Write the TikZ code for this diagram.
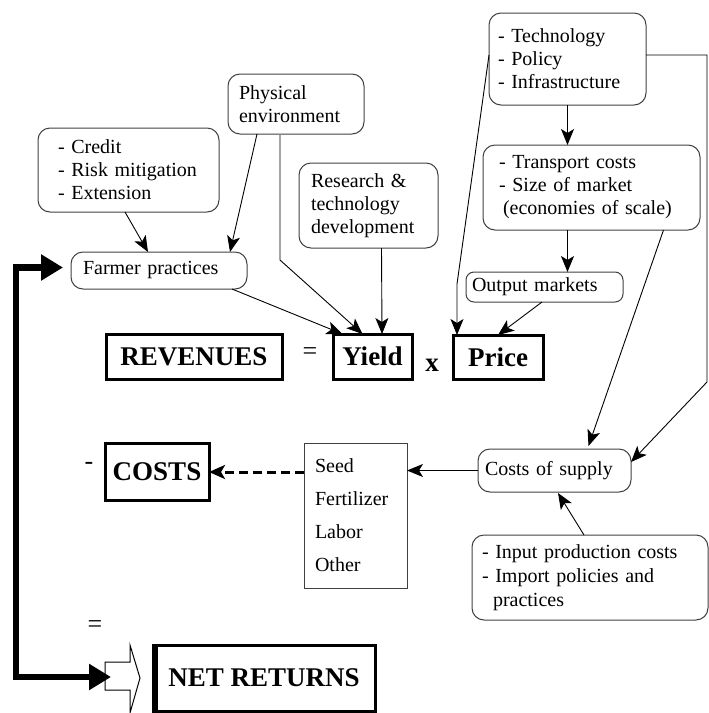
\documentclass[tikz,border=0pt]{standalone}
\usepackage{fontspec}
\setmainfont{Liberation Serif}
\usetikzlibrary{arrows.meta,calc}
\begin{document}
\begin{tikzpicture}[x=1pt,y=-1pt,
  every node/.style={inner sep=0pt, outer sep=0pt},
  rbox/.style={draw=black!75, line width=1pt, rounded corners=12pt, align=left, font=\fontsize{20}{23}\selectfont},
  sbox/.style={draw=black!75, line width=1pt, align=left, font=\fontsize{20}{33}\selectfont},
  bbox/.style={draw=black, line width=3pt, font=\fontsize{27}{30}\selectfont\bfseries},
  conn/.style={draw=black, line width=0.9pt, -{Stealth[length=16pt,width=13pt,inset=4pt]}},
  bigarr/.style={line width=6.5pt, line join=miter, {Triangle[length=22pt,width=25pt]}-{Triangle[length=22pt,width=25pt]}},
  dasharr/.style={line width=3pt, dash pattern=on 9pt off 5pt, -{Stealth[length=16pt,width=14pt,inset=4pt]}},
  sym/.style={font=\fontsize{26}{26}\selectfont}
]
\useasboundingbox (0,0) rectangle (709,713);

% rounded boxes
\node[rbox, minimum width=181pt, minimum height=84pt, text width=141pt, inner xsep=20pt] (credit) at (128.5,170) {- Credit\\- Risk mitigation\\- Extension};
\node[rbox, minimum width=136pt, minimum height=60pt, text width=114pt, inner xsep=11pt] (phys) at (296,104) {Physical\\environment};
\node[rbox, minimum width=139pt, minimum height=85pt, text width=115pt, inner xsep=12pt] (research) at (368.5,205.5) {Research \&\\technology\\development};
\node[rbox, minimum width=157pt, minimum height=92pt, text width=139pt, inner xsep=9pt] (tech) at (567.5,59) {- Technology\\- Policy\\- Infrastructure};
\node[rbox, minimum width=217pt, minimum height=85pt, text width=185pt, inner xsep=16pt] (transport) at (591.5,187.5) {- Transport costs\\- Size of market\\\hspace*{4pt}(economies of scale)};
\node[rbox, rounded corners=8pt, minimum width=157pt, minimum height=30pt, text width=145pt, inner xsep=6pt] (output) at (544.5,287) {Output markets};
\node[rbox, minimum width=176pt, minimum height=37pt, text width=152pt, inner xsep=12pt] (farmer) at (159,270.5) {Farmer practices};
\node[rbox, minimum width=153pt, minimum height=43pt, text width=139pt, inner xsep=7pt] (supply) at (554.5,470.5) {Costs of supply};
\node[rbox, font=\fontsize{20}{24}\selectfont, minimum width=236pt, minimum height=85pt, text width=216pt, inner xsep=10pt] (input) at (590,577.5) {- Input production costs\\- Import policies and\\\hspace*{11pt}practices};

% plain box
\node[sbox, minimum width=103pt, minimum height=145pt, text width=81pt, inner xsep=11pt] (seed) at (355.5,515.5) {Seed\\Fertilizer\\Labor\\Other};

% bold boxes
\node[bbox, minimum width=176pt, minimum height=45pt] (rev) at (194,356.5) {REVENUES};
\node[bbox, minimum width=79pt, minimum height=45pt] (yield) at (372.5,356.5) {Yield};
\node[bbox, minimum width=90pt, minimum height=44pt] (price) at (498,357) {Price};
\node[bbox, minimum width=104pt, minimum height=57pt] (costs) at (157,471.5) {COSTS};
\node[bbox, minimum width=222pt, minimum height=66pt] (net) at (264,678) {NET RETURNS};
\draw[line width=6pt] ($(net.north west)+(2,-1.5)$) -- ($(net.south west)+(2,1.5)$);

% operators
\node[sym] (eq1) at (310,354) {=};
\node[sym, font=\fontsize{27}{27}\selectfont\bfseries, anchor=base] (times) at (432,371) {x};
\node[sym] (minus) at (89,466) {-};
\node[sym] (eq2) at (95,627) {=};

% block arrow
\draw[line width=1pt, line join=miter] (105,662) -- (130,662) -- (130,645) -- (140,678) -- (130,713) -- (130,690) -- (105,690) -- cycle;
\coordinate (barr) at (111,677);
\coordinate (bl1) at (16,267.5);
\coordinate (bl2) at (16,677);
\draw[bigarr] ($(farmer.west)+(-8,-3)$) -- (bl1) -- (bl2) -- (barr);

% connectors
\draw[conn] ($(credit.south)+(-3.5,0)$) -- ($(farmer.north)+(-11,0)$);
\draw[conn] ($(phys.south)+(-39,0)$) -- ($(farmer.north)+(71,0)$);
\coordinate (pv) at (280,260);
\draw[conn] ($(phys.south)+(-16,1)$) -- (pv) -- ($(yield.north)+(-10,0)$);
\draw[conn] ($(farmer.south)+(73,0)$) -- ($(yield.north)+(-30,0)$);
\draw[conn] ($(research.south)+(13,0)$) -- ($(yield.north)+(9.5,0)$);
\coordinate (tp) at (457,284);
\draw[conn] ($(tech.west)+(0,-4)$) -- (tp) -- ($(price.north)+(-41,0)$);
\draw[conn] ($(tech.south)+(0,0)$) -- ($(transport.north)+(-24,0)$);
\draw[conn] ($(transport.south)+(-24,0)$) -- ($(output.north)+(23,0)$);
\draw[conn] ($(output.south)+(-2.5,0)$) -- ($(price.north)+(0,0)$);
\coordinate (tr1) at (707,55);
\coordinate (tr2) at (707,382);
\draw[conn] ($(tech.east)+(0,-4)$) -- (tr1) -- (tr2) -- ($(supply.east)+(0,-8.5)$);
\draw[conn] ($(transport.south)+(72,0)$) -- ($(supply.north)+(34,-3)$);
\draw[conn] (supply.west) -- (seed.east |- supply.west);
\draw[conn] ($(input.north)+(-6,0)$) -- ($(supply.south)+(3.5,1)$);
\draw[dasharr] ($(seed.north west)+(0,29)$) -- ($(costs.east)+(0,0.5)$);
\end{tikzpicture}
\end{document}
